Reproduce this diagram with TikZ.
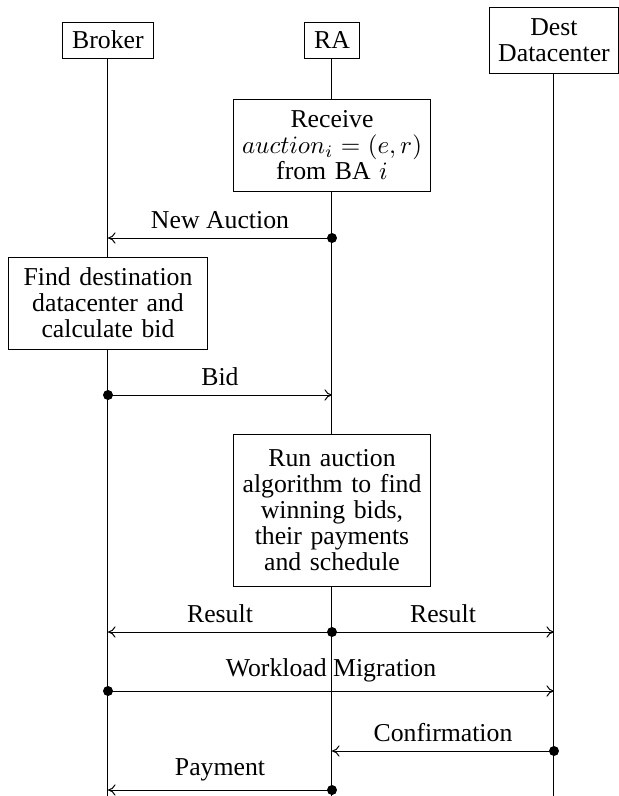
\documentclass[tikz,border=0pt]{standalone}
\usepackage{fontspec}
\setmainfont{Liberation Serif}
\usetikzlibrary{arrows.meta}
\begin{document}
\begin{tikzpicture}[x=0.4pt,y=-0.4pt,
  every node/.style={font=\fontsize{10.3}{10.4}\selectfont},
  actor/.style={draw, fill=white, inner sep=0pt, align=center, minimum height=14.4pt},
  procbox/.style={draw, fill=white, inner sep=0pt, align=center, text width=75pt,
    minimum width=78.4pt, minimum height=36.8pt},
  lifeline/.style={line width=0.4pt},
  msg/.style={-{To[length=3pt,width=4.5pt]}, line width=0.4pt},
  dot/.style={fill=black}]
  \useasboundingbox (0,0) rectangle (619,796);
  \coordinate (bottom) at (0,796);

  % participants
  \node[actor, minimum width=36.4pt] (broker) at (108,40) {Broker};
  \node[actor, minimum width=21.6pt] (ra) at (332,40) {RA};
  \node[actor, minimum width=51.6pt, minimum height=26.4pt] (dest) at (554,40) {Dest\\Datacenter};

  % lifelines
  \draw[lifeline] (broker.south) -- (broker.south |- bottom);
  \draw[lifeline] (ra.south) -- (ra.south |- bottom);
  \draw[lifeline] (dest.south) -- (dest.south |- bottom);

  % processing steps
  \node[procbox] (receive) at (332,145) {Receive\\$auction_i=(e,r)$\\from BA $i$};
  \node[procbox, minimum width=79.6pt] (find) at (108,303) {Find destination datacenter and calculate bid};
  \node[procbox, minimum height=60.8pt] (run) at (332,510) {Run auction algorithm to find winning bids, their payments and schedule};

  % message end points
  \coordinate (na-s) at (ra |- 0,238);
  \coordinate (na-e) at (broker |- 0,238);
  \coordinate (bid-s) at (broker |- 0,395);
  \coordinate (bid-e) at (ra |- 0,395);
  \coordinate (res-s) at (ra |- 0,632);
  \coordinate (res-b) at (broker |- 0,632);
  \coordinate (res-d) at (dest |- 0,632);
  \coordinate (wm-s) at (broker |- 0,691);
  \coordinate (wm-e) at (dest |- 0,691);
  \coordinate (cf-s) at (dest |- 0,751);
  \coordinate (cf-e) at (ra |- 0,751);
  \coordinate (pay-s) at (ra |- 0,790);
  \coordinate (pay-e) at (broker |- 0,790);

  % messages
  \draw[msg] (na-s) -- node[above] {New Auction} (na-e);
  \draw[msg] (bid-s) -- node[above] {Bid} (bid-e);
  \draw[msg] (res-s) -- node[above] {Result} (res-b);
  \draw[msg] (res-s) -- node[above] {Result} (res-d);
  \draw[msg] (wm-s) -- node[above] {Workload Migration} (wm-e);
  \draw[msg] (cf-s) -- node[above] {Confirmation} (cf-e);
  \draw[msg] (pay-s) -- node[above] {Payment} (pay-e);

  % message origins
  \foreach \p in {na-s, bid-s, res-s, wm-s, cf-s, pay-s}
    \fill[dot] (\p) circle (2pt);
\end{tikzpicture}
\end{document}
